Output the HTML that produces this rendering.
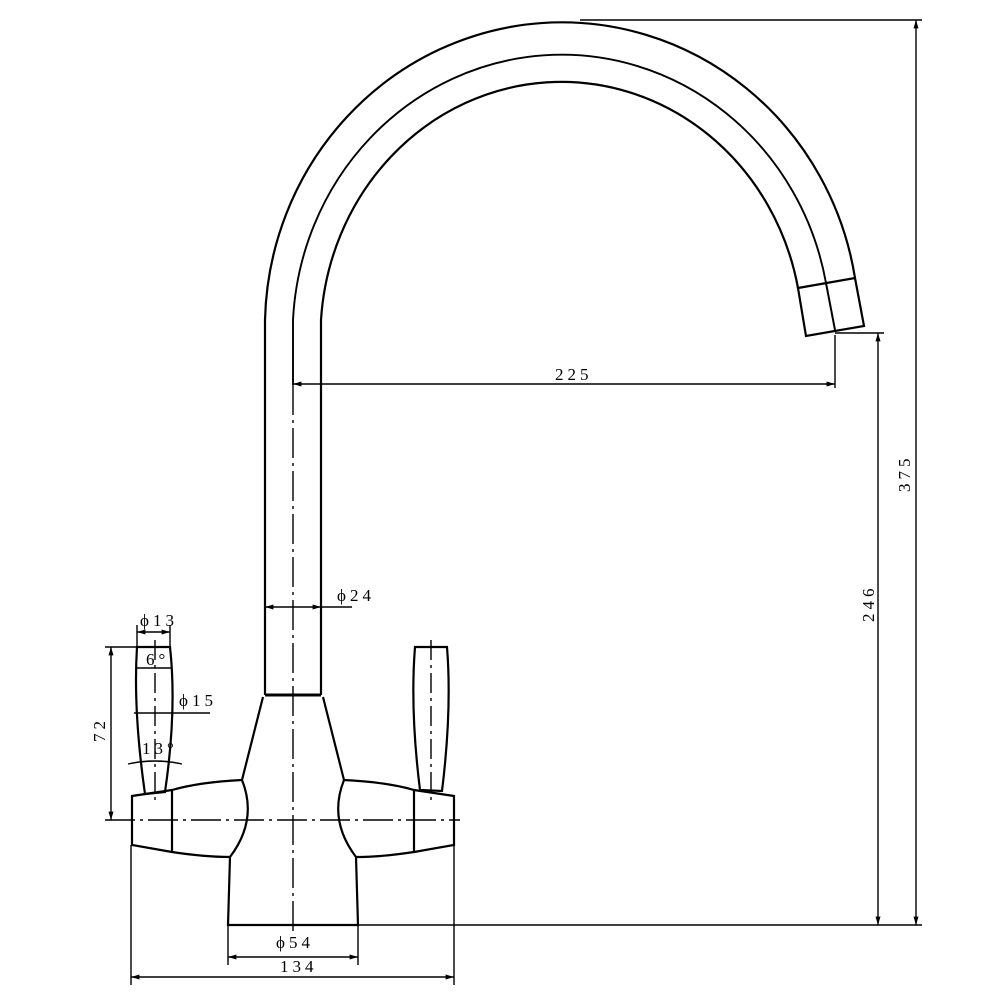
<!DOCTYPE html>
<html><head><meta charset="utf-8"><style>
html,body{margin:0;padding:0;background:#fff}
svg{display:block}
text{font-family:"Liberation Sans Narrow","Liberation Serif",serif;font-size:17px;fill:#000;letter-spacing:4px}
</style></head><body>
<svg width="1000" height="1000" viewBox="0 0 1000 1000" xmlns="http://www.w3.org/2000/svg">
<defs>
<marker id="a" viewBox="0 0 10 10" refX="10" refY="5" markerWidth="8" markerHeight="6" orient="auto-start-reverse"><path d="M0,2 L10,5 L0,8 Z" fill="#000"/></marker>
</defs>
<g fill="none" stroke="#000" stroke-width="2.2">
<!-- spout -->
<path d="M265,695 L265,320 A297,305 0 0 1 855,278"/>
<path d="M321,695 L321,320 A241,255 0 0 1 798,288"/>
<path d="M798,288 L855,278 L864,326 L806,336 Z"/>
<path d="M265,695 L321,695" stroke-width="3"/>
<!-- body -->
<path d="M263,697 L242,780 Q258,820 230,857 L228,925 L358,925 L356,857 Q328,820 344,780 L323,697"/>
<!-- left lever -->
<path d="M242,780 Q200,782 172,790 L132,796 L132,845 L172,852 Q205,857 230,857"/>
<path d="M172,790 L172,852"/>
<!-- right lever -->
<path d="M344,780 Q386,782 414,790 L454,796 L454,845 L414,852 Q381,857 356,857"/>
<path d="M414,790 L414,852"/>
<!-- left handle -->
<path d="M137,647 L170,647 Q177,710 165,792 L145,794 Q133,710 137,647 Z"/>
<!-- right handle -->
<path d="M415,647 L447,647 Q452,710 442,791 L420,790 Q410,710 415,647 Z"/>
</g>
<g fill="none" stroke="#000" stroke-width="1.4">
<path d="M826,283 L835,330" stroke-width="2"/>
<path d="M293,385 L293,320 A269,280 0 0 1 826,283" stroke-width="1.9"/>
<path d="M293,385 L293,935" stroke-dasharray="30,5,3,5"/>
<path d="M105,820 L460,820" stroke-dasharray="30,5,3,5"/>
<path d="M155,640 L155,800" stroke-dasharray="20,5,3,5"/>
<path d="M431,640 L431,800" stroke-dasharray="20,5,3,5"/>
<!-- dims -->
<path d="M580,20 L922,20 M358,925 L922,925"/>
<path d="M916,20 L916,925" marker-start="url(#a)" marker-end="url(#a)"/>
<path d="M835,333 L884,333 M835,335 L835,388"/>
<path d="M878,333 L878,925" marker-start="url(#a)" marker-end="url(#a)"/>
<path d="M293,384 L835,384" marker-start="url(#a)" marker-end="url(#a)"/>
<path d="M265,607 L321,607" marker-start="url(#a)" marker-end="url(#a)"/>
<path d="M321,607 L352,607"/>
<path d="M137,625 L137,647 M170,625 L170,647"/>
<path d="M137,632 L170,632" marker-start="url(#a)" marker-end="url(#a)"/>
<path d="M105,647 L170,647"/>
<path d="M111,647 L111,820" marker-start="url(#a)" marker-end="url(#a)"/>
<path d="M137,668 L172,668"/>
<path d="M134,713 L210,713"/>
<path d="M128,764 Q155,758 182,764"/>
<path d="M228,925 L228,965 M358,925 L358,965"/>
<path d="M228,957 L358,957" marker-start="url(#a)" marker-end="url(#a)"/>
<path d="M131,845 L131,985 M454,845 L454,985"/>
<path d="M131,977 L454,977" marker-start="url(#a)" marker-end="url(#a)"/>
</g>
<text x="555" y="380">225</text>
<text transform="translate(910,492) rotate(-90)">375</text>
<text transform="translate(874,622) rotate(-90)">246</text>
<text transform="translate(105,742) rotate(-90)">72</text>
<text x="337" y="601">ϕ24</text>
<text x="140" y="626">ϕ13</text>
<text x="146" y="665">6°</text>
<text x="179" y="706">ϕ15</text>
<text x="142" y="754">13°</text>
<text x="276" y="948">ϕ54</text>
<text x="280" y="972">134</text>
</svg>
</body></html>
